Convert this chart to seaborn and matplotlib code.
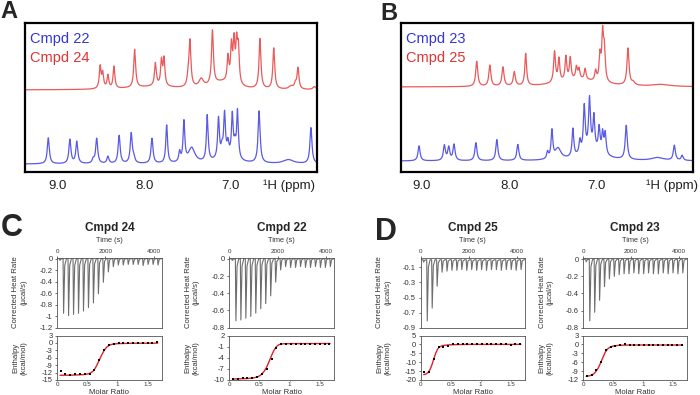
import numpy as np
import pandas as pd
import matplotlib
matplotlib.use("Agg")
import matplotlib.pyplot as plt
import matplotlib.ticker as mticker
import seaborn as sns

sns.set_theme(style="ticks")
plt.rcParams['font.family'] = ['Liberation Sans', 'DejaVu Sans']
plt.rcParams['axes.unicode_minus'] = False

# ---------------- NMR data (peak ppm, height, half-width) ----------------
a22_ppm = [9.11, 8.86, 8.78, 8.59, 8.55, 8.42, 8.29, 8.15, 8.12, 7.91, 7.74, 7.59, 7.54, 7.45,
           7.27, 7.14, 7.10, 7.07, 7.03, 6.98, 6.95, 6.92, 7.05, 6.67, 6.33, 6.07]
a22_h = [26, 24, 22, 4, 25, 7, 28, 30, 5, 25, 38, 10, 40, 15,
         46, 40, 8, 42, 12, 42, 12, 48, 7, 52, 4, 36]
a22_w = [0.014, 0.014, 0.014, 0.014, 0.014, 0.014, 0.014, 0.014, 0.014, 0.014, 0.012, 0.012, 0.012, 0.045,
         0.012, 0.012, 0.012, 0.012, 0.012, 0.012, 0.012, 0.012, 0.12, 0.014, 0.07, 0.014]

a24_ppm = [8.51, 8.48, 8.42, 8.35, 8.11, 7.87, 7.80, 7.77, 7.49, 7.47, 7.34, 7.21,
           7.03, 6.99, 6.96, 6.93, 6.91, 7.10, 6.66, 6.50, 6.30, 6.25, 6.22, 6.03, 7.9]
a24_h = [22, 15, 13, 22, 38, 23, 25, 27, 10, 45, 8, 54,
         25, 36, 40, 38, 34, 7, 50, 41, 3, 5, 21, 3, 3]
a24_w = [0.012, 0.012, 0.012, 0.012, 0.013, 0.013, 0.012, 0.012, 0.014, 0.013, 0.03, 0.013,
         0.012, 0.012, 0.012, 0.012, 0.012, 0.15, 0.013, 0.013, 0.03, 0.014, 0.013, 0.02, 0.35]

b23_ppm = [9.03, 8.74, 8.69, 8.63, 8.38, 8.14, 7.90, 7.56, 7.51, 7.44, 7.27, 7.19, 7.14, 7.08,
           7.03, 6.97, 6.93, 6.90, 7.05, 6.66, 6.30, 6.11, 6.02]
b23_h = [15, 15, 13, 16, 18, 21, 16, 7, 28, 11, 28, 13, 46, 51,
         33, 24, 20, 21, 10, 34, 3, 15, 5]
b23_w = [0.014, 0.014, 0.014, 0.014, 0.014, 0.014, 0.014, 0.012, 0.012, 0.04, 0.012, 0.012, 0.013, 0.013,
         0.012, 0.012, 0.012, 0.012, 0.15, 0.014, 0.08, 0.014, 0.014]

b25_ppm = [8.37, 8.22, 8.07, 7.94, 7.81, 7.48, 7.43, 7.35, 7.30, 7.23, 7.20, 7.13, 7.01,
           6.96, 6.93, 6.91, 7.20, 6.64, 6.58, 6.26]
b25_h = [25, 21, 19, 14, 32, 31, 23, 24, 22, 12, 10, 11, 10,
         25, 46, 30, 7, 37, 3, 2]
b25_w = [0.014, 0.014, 0.014, 0.014, 0.012, 0.013, 0.012, 0.012, 0.012, 0.012, 0.012, 0.012, 0.012,
         0.012, 0.012, 0.012, 0.28, 0.014, 0.02, 0.12]

# ---------------- ITC data ----------------
inj_time = [100, 250, 455, 660, 865, 1070, 1275, 1480, 1685, 1890, 2095, 2300, 2505,
            2710, 2915, 3120, 3325, 3530, 3735, 3940, 4145]
raw24 = [-0.03, -0.95, -0.99, -0.97, -0.95, -0.91, -0.85, -0.77, -0.61, -0.41, -0.23, -0.14,
         -0.11, -0.11, -0.10, -0.10, -0.10, -0.12, -0.10, -0.10, -0.11]
raw22 = [-0.02, -0.72, -0.71, -0.69, -0.67, -0.63, -0.58, -0.52, -0.43, -0.27, -0.13, -0.09,
         -0.10, -0.10, -0.09, -0.10, -0.10, -0.09, -0.10, -0.10, -0.09]
raw25 = [-0.03, -0.81, -0.64, -0.35, -0.165, -0.15, -0.14, -0.14, -0.13, -0.14, -0.13, -0.14,
         -0.13, -0.14, -0.13, -0.13, -0.14, -0.13, -0.13, -0.14, -0.13]
raw23 = [-0.03, -0.72, -0.62, -0.48, -0.32, -0.23, -0.20, -0.18, -0.17, -0.17, -0.16, -0.17,
         -0.17, -0.16, -0.17, -0.17, -0.16, -0.17, -0.16, -0.17, -0.16]

molar = [0.06, 0.14, 0.22, 0.30, 0.38, 0.46, 0.54, 0.62, 0.70, 0.78, 0.86, 0.94, 1.02,
         1.10, 1.18, 1.26, 1.34, 1.42, 1.50, 1.58, 1.66]
enth24 = [-11.5, -12.7, -12.9, -12.6, -12.6, -12.5, -12.7, -11.0, -7.1, -3.0, -1.0, -0.4, 0.0,
          -0.1, -0.1, -0.1, -0.1, 0.0, 0.0, 0.0, 0.3]
enth22 = [-9.7, -9.6, -9.55, -9.55, -9.45, -9.2, -8.5, -7.1, -4.45, -1.4, -0.2, -0.2, -0.2,
          -0.2, -0.2, -0.2, -0.2, -0.2, -0.2, -0.2, -0.2]
enth25 = [-15.3, -15.3, -8.3, -1.6, -1.4, -1.1, 0.1, 0.0, 0.5, 0.0, 0.0, 0.0, 0.4,
          0.0, 0.0, 0.2, 0.0, 0.0, -0.1, 0.0, 0.0]
enth23 = [-10.6, -10.2, -8.6, -6.0, -2.0, -0.8, -0.5, -0.2, 0.0, -0.1, -0.1, -0.2, -0.2,
          -0.2, -0.2, -0.2, -0.2, -0.2, -0.2, -0.2, -0.2]

fit24_x = [0.05, 0.3, 0.45, 0.52, 0.56, 0.60, 0.63, 0.66, 0.70, 0.74, 0.78, 0.82, 0.86, 0.92, 1.0, 1.2, 1.67]
fit24_y = [-13.1, -13.0, -12.8, -12.5, -12.1, -11.4, -10.4, -9.0, -7.0, -4.9, -3.1, -1.8, -1.0, -0.5, -0.3, -0.15, -0.1]
fit22_x = [0.05, 0.3, 0.4, 0.46, 0.5, 0.54, 0.58, 0.62, 0.66, 0.70, 0.74, 0.78, 0.82, 0.86, 0.92, 1.0, 1.67]
fit22_y = [-9.75, -9.6, -9.45, -9.2, -8.9, -8.4, -7.6, -6.5, -5.0, -3.4, -2.0, -1.0, -0.5, -0.3, -0.2, -0.2, -0.15]
fit25_x = [0.05, 0.09, 0.13, 0.16, 0.19, 0.22, 0.25, 0.28, 0.31, 0.36, 0.45, 0.6, 0.8, 1.67]
fit25_y = [-17.0, -16.6, -15.6, -13.8, -11.2, -8.0, -5.0, -2.8, -1.5, -0.7, -0.3, -0.1, 0.0, 0.0]
fit23_x = [0.05, 0.12, 0.17, 0.21, 0.25, 0.29, 0.33, 0.37, 0.41, 0.46, 0.52, 0.6, 0.8, 1.67]
fit23_y = [-10.8, -10.5, -10.0, -9.2, -8.0, -6.3, -4.4, -2.6, -1.5, -0.8, -0.5, -0.3, -0.2, -0.2]

BLUE_LINE = '#5a5ae6'
RED_LINE = '#ea5a5a'
BLUE_TXT = '#3434d8'
RED_TXT = '#e23232'

W, H = 700, 395
fig = plt.figure(figsize=(7, 3.95), dpi=100)


def rect(x0, y0, x1, y1):
    return [x0 / W, 1 - y1 / H, (x1 - x0) / W, (y1 - y0) / H]


def spectrum(grid, ppm, h, w):
    y = np.zeros_like(grid)
    for c, hh, ww in zip(ppm, h, w):
        y += hh * ww ** 2 / ((grid - c) ** 2 + ww ** 2)
    return y


def nmr_panel(box, xlim, top, bottom, name_top, name_bot, letter_xy, letter, label_x):
    ax = fig.add_axes(rect(*box))
    grid = np.linspace(5.7, 9.6, 4000)
    for (ppm, h, w, off), col in ((top, RED_LINE), (bottom, BLUE_LINE)):
        df = pd.DataFrame({'ppm': grid, 'I': spectrum(grid, ppm, h, w) + off})
        sns.lineplot(data=df, x='ppm', y='I', ax=ax, color=col, lw=0.9, estimator=None, sort=False)
    ax.set_xlim(*xlim)
    ax.set_ylim(0, 149)
    ax.set_yticks([])
    ax.set_xticks([9.0, 8.0, 7.0])
    ax.set_xticklabels(['9.0', '8.0', '7.0'])
    ax.tick_params(axis='x', length=0, pad=6, labelsize=9.5, colors='#222222')
    ax.set_xlabel('')
    ax.set_ylabel('')
    for s in ax.spines.values():
        s.set_linewidth(1.6)
        s.set_color('black')
    ax.text(5 / (box[2] - box[0]), 1 - 16 / (box[3] - box[1]), name_bot, transform=ax.transAxes,
            color=BLUE_TXT, fontsize=10.5, va='center', ha='left')
    ax.text(5 / (box[2] - box[0]), 1 - 35 / (box[3] - box[1]), name_top, transform=ax.transAxes,
            color=RED_TXT, fontsize=10.5, va='center', ha='left')
    fig.text(label_x / W, 1 - 186 / H, '\u00b9H (ppm)', fontsize=9.5, ha='left', va='center', color='#222222')
    fig.text(letter_xy[0] / W, 1 - letter_xy[1] / H, letter, fontsize=17, fontweight='bold', ha='center', va='center')


nmr_panel((25, 23, 317, 172), (9.38, 6.0), (a24_ppm, a24_h, a24_w, 82), (a22_ppm, a22_h, a22_w, 8),
          'Cmpd 24', 'Cmpd 22', (9, 12), 'A', 263)
nmr_panel((400.7, 23, 692.7, 172), (9.24, 5.90), (b25_ppm, b25_h, b25_w, 85), (b23_ppm, b23_h, b23_w, 11),
          'Cmpd 25', 'Cmpd 23', (389, 13), 'B', 646)

fmt = mticker.FuncFormatter(lambda v, p: f"{round(v, 3):g}")


def itc_panel(x0, x1, title, raw, ylim_raw, yt_raw, enth, fx, fy, ylim_e, yt_e):
    cx = (x0 + x1) / 2
    # raw thermogram
    ax = fig.add_axes(rect(x0, 257.5, x1, 327.7))
    t, y = [0], [0]
    for ti, d in zip(inj_time, raw):
        t += [ti, ti + 22, ti + 70, ti + 140]
        y += [0, d, 0.12 * d, 0]
    t += [4330]
    y += [0]
    df = pd.DataFrame({'t': t, 'q': y})
    sns.lineplot(data=df, x='t', y='q', ax=ax, color='#6e6e6e', lw=0.8, estimator=None, sort=False)
    ax.set_xlim(0, 4330)
    ax.set_ylim(*ylim_raw)
    ax.set_yticks(yt_raw)
    ax.yaxis.set_major_formatter(fmt)
    ax.xaxis.tick_top()
    ax.set_xticks([0, 2000, 4000])
    ax.set_xticklabels(['0', '2000', '4000'])
    ax.tick_params(axis='x', labelsize=4.5, length=1.5, width=0.5, pad=1.2, colors='#333333')
    ax.tick_params(axis='y', labelsize=5.5, length=1.8, width=0.5, pad=1.5, colors='#333333')
    ax.set_xlabel('')
    ax.set_ylabel('')
    for s in ax.spines.values():
        s.set_visible(True)
        s.set_linewidth(0.6)
        s.set_color('#555555')
    fig.text((x0 - 37) / W, 1 - 292 / H, 'Corrected Heat Rate\n(\u00b5cal/s)', rotation=90,
             fontsize=5.6, ha='center', va='center', multialignment='center', color='#333333', linespacing=1.25)
    fig.text(cx / W, 1 - 228 / H, title, fontsize=8.5, fontweight='bold', ha='center', va='center')
    fig.text(cx / W, 1 - 241 / H, 'Time (s)', fontsize=5.3, ha='center', va='center', color='#333333')

    # enthalpy
    ax2 = fig.add_axes(rect(x0, 335.5, x1, 380))
    sns.lineplot(x=fx, y=fy, ax=ax2, color='#e0202a', lw=1.0, estimator=None, sort=False)
    sns.scatterplot(x=molar, y=enth, ax=ax2, color='black', marker='s', s=2.5, linewidth=0, zorder=3)
    ax2.set_xlim(0, 1.74)
    ax2.set_ylim(*ylim_e)
    ax2.set_yticks(yt_e)
    ax2.yaxis.set_major_formatter(fmt)
    ax2.set_xticks([0, 0.5, 1, 1.5])
    ax2.xaxis.set_major_formatter(fmt)
    ax2.tick_params(axis='x', labelsize=4.5, length=1.0, width=0.5, pad=0.3, colors='#333333')
    ax2.tick_params(axis='y', labelsize=5.5, length=1.8, width=0.5, pad=1.5, colors='#333333')
    ax2.set_xlabel('')
    ax2.set_ylabel('')
    for s in ax2.spines.values():
        s.set_visible(True)
        s.set_linewidth(0.6)
        s.set_color('#555555')
    fig.text((x0 - 37) / W, 1 - 358 / H, 'Enthalpy\n(kcal/mol)', rotation=90,
             fontsize=5.6, ha='center', va='center', multialignment='center', color='#333333', linespacing=1.25)
    fig.text(cx / W, 1 - 392 / H, 'Molar Ratio', fontsize=5.6, ha='center', va='center', color='#333333')


itc_panel(57, 162, 'Cmpd 24', raw24, (-1.2, 0.02), [0, -0.2, -0.4, -0.6, -0.8, -1.0, -1.2],
          enth24, fit24_x, fit24_y, (-15, 3), [3, 0, -3, -6, -9, -12, -15])
itc_panel(229.3, 334.3, 'Cmpd 22', raw22, (-0.8, 0.015), [0, -0.2, -0.4, -0.6, -0.8],
          enth22, fit22_x, fit22_y, (-10, 2), [2, -1, -4, -7, -10])
itc_panel(420.7, 525, 'Cmpd 25', raw25, (-0.9, 0.03), [-0.1, -0.3, -0.5, -0.7, -0.9],
          enth25, fit25_x, fit25_y, (-20, 5), [5, 0, -5, -10, -15, -20])
itc_panel(583.3, 686.7, 'Cmpd 23', raw23, (-0.8, 0.02), [0, -0.2, -0.4, -0.6, -0.8],
          enth23, fit23_x, fit23_y, (-12, 3), [3, 0, -3, -6, -9, -12])

fig.text(12 / W, 1 - 228 / H, 'C', fontsize=22, fontweight='bold', ha='center', va='center')
fig.text(386 / W, 1 - 232 / H, 'D', fontsize=22, fontweight='bold', ha='center', va='center')

fig.savefig('out.png', dpi=100)
